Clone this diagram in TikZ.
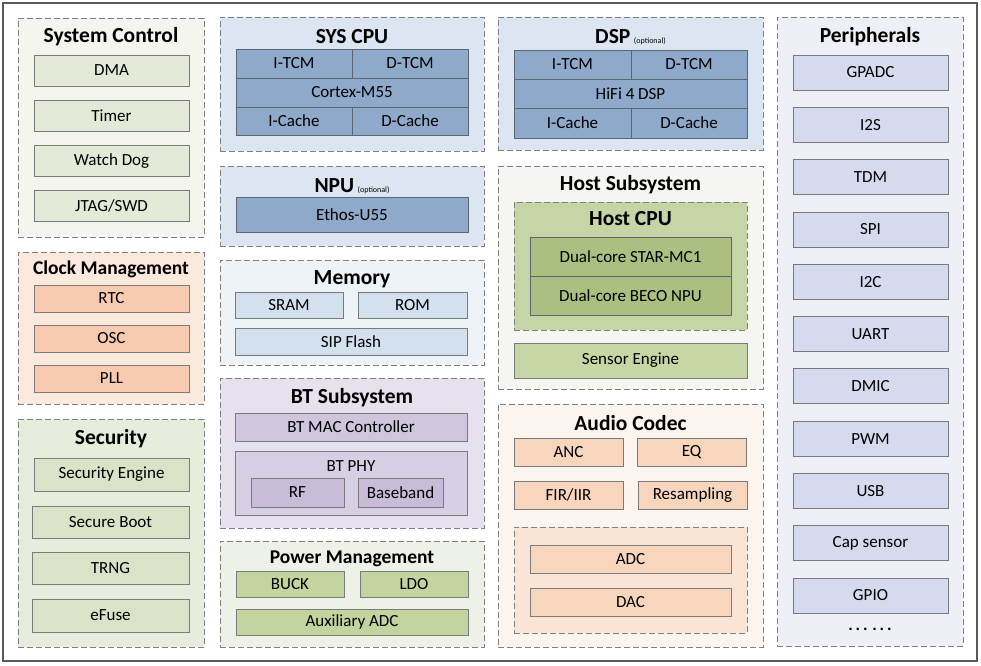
\documentclass[tikz,border=0pt]{standalone}
\usepackage{fontspec}
\setmainfont{Carlito}
\usepackage{tikz}
\definecolor{frameln}{HTML}{5A5A5A}
\definecolor{grpln}{HTML}{808080}
\definecolor{boxln}{HTML}{7A7A7A}
\definecolor{cpuln}{HTML}{5B6673}
\definecolor{scbg}{HTML}{F3F5EE}\definecolor{scbox}{HTML}{E3EAD7}
\definecolor{ckbg}{HTML}{FCE9DD}\definecolor{ckbox}{HTML}{F8CBB0}
\definecolor{secbg}{HTML}{E7EDDC}\definecolor{secbox}{HTML}{DAE3C8}
\definecolor{cpubg}{HTML}{DCE6F2}\definecolor{cpubox}{HTML}{8EA9C9}
\definecolor{membg}{HTML}{EEF3F8}\definecolor{membox}{HTML}{D3E0EE}
\definecolor{btbg}{HTML}{E6E1EC}\definecolor{btbox}{HTML}{CFC5DD}
\definecolor{btphy}{HTML}{D7CFE3}\definecolor{btin}{HTML}{C8BCD8}
\definecolor{pwbg}{HTML}{EEF1E8}\definecolor{pwbox}{HTML}{C4D49F}
\definecolor{hsbg}{HTML}{F5F5F2}\definecolor{hcpu}{HTML}{C6D5A5}
\definecolor{hcore}{HTML}{ABC080}\definecolor{sensbox}{HTML}{C7D6A5}
\definecolor{acbg}{HTML}{FCF4EE}\definecolor{acbox}{HTML}{F8D6BD}
\definecolor{acin}{HTML}{FAE4D5}
\definecolor{perbg}{HTML}{EFEFF8}\definecolor{perbox}{HTML}{D6DAEE}
\tikzset{
  bx/.style={draw=boxln,line width=0.8pt,inner sep=0pt,font=\fontsize{17}{19}\selectfont},
  cell/.style={draw=cpuln,line width=0.8pt,inner sep=0pt,fill=cpubox,font=\fontsize{17}{19}\selectfont},
  grp/.style={draw=grpln,line width=1pt,dash pattern=on 6pt off 3pt,inner sep=0pt},
  hd/.style={inner sep=0pt,font=\fontsize{21.5}{24}\selectfont\bfseries},
  hds/.style={inner sep=0pt,font=\fontsize{19.5}{22}\selectfont\bfseries},
  lbl/.style={inner sep=0pt,font=\fontsize{17}{19}\selectfont},
  sz/.style 2 args={minimum width=#1,minimum height=#2},
}
\newcommand\optl{\fontsize{8}{9}\selectfont\mdseries (optional)}

\begin{document}
\begin{tikzpicture}[x=1pt,y=-1pt]
\useasboundingbox (0,0) rectangle (981,665);
\draw[line width=2pt,draw=frameln] (3,3) rectangle (977,661);
% left column
\node[grp,sz={186}{219},fill=scbg] (sysctl) at (111,127.5){};
\node[hd] (sysctlt) at (111,36.5){System Control};
\node[bx,sz={155}{31},fill=scbox] (dma) at (111.5,70.5){DMA};
\node[bx,sz={155}{31},fill=scbox] (timer) at (111.5,115.5){Timer};
\node[bx,sz={155}{31},fill=scbox] (wdog) at (111.5,161){Watch Dog};
\node[bx,sz={155}{31},fill=scbox] (jtag) at (111.5,206){JTAG/SWD};
\node[grp,sz={186}{152},fill=ckbg] (clk) at (111,328){};
\node[hds] (clkt) at (111,269.5){Clock Management};
\node[bx,sz={155}{27},fill=ckbox] (rtc) at (111.5,298.5){RTC};
\node[bx,sz={155}{27},fill=ckbox] (osc) at (111.5,338.5){OSC};
\node[bx,sz={155}{27},fill=ckbox] (pll) at (111.5,378.5){PLL};
\node[grp,sz={186}{228},fill=secbg] (sec) at (111,533){};
\node[hd] (sect) at (111,438.5){Security};
\node[bx,sz={155}{33},fill=secbox] (seceng) at (111.5,474.5){Security Engine};
\node[bx,sz={157}{32},fill=secbox] (sboot) at (110.5,522){Secure Boot};
\node[bx,sz={157}{32},fill=secbox] (trng) at (110.5,568){TRNG};
\node[bx,sz={157}{33},fill=secbox] (efuse) at (110.5,615.5){eFuse};
% second column
\node[grp,sz={264}{134},fill=cpubg] (syscpu) at (352,84){};
\node[hd] (syscput) at (352,37){SYS CPU};
\node[cell,sz={116}{29}] (itcm) at (294,63.5){I-TCM}; \node[cell,sz={116}{29}] (dtcm) at (410,63.5){D-TCM};
\node[cell,sz={232}{29}] (m55) at (352,92.5){Cortex-M55};
\node[cell,sz={116}{28}] (icache) at (294,121){I-Cache}; \node[cell,sz={116}{28}] (dcache) at (410,121){D-Cache};
\node[grp,sz={264}{80},fill=cpubg] (npu) at (352,206){};
\node[hd] (nput) at (352,186){NPU\,\optl};
\node[cell,sz={232}{35}] (ethos) at (352,214.5){Ethos-U55};
\node[grp,sz={264}{105},fill=membg] (mem) at (352,312.5){};
\node[hd] (memt) at (352,279.5){Memory};
\node[bx,sz={108}{26},fill=membox] (sram) at (289,305){SRAM}; \node[bx,sz={109}{26},fill=membox] (rom) at (412.5,305){ROM};
\node[bx,sz={232}{27},fill=membox] (flash) at (351,341.5){SIP Flash};
\node[grp,sz={264}{150},fill=btbg] (bt) at (352,453){};
\node[hd] (btt) at (352,397.5){BT Subsystem};
\node[bx,sz={232}{28},fill=btbox] (btmac) at (351,427){BT MAC Controller};
\node[bx,sz={232}{64},fill=btphy] (btphy) at (351,483){};
\node[lbl] (btphyt) at (351,466.5){BT PHY};
\node[bx,sz={93}{29},fill=btin] (rf) at (297.5,492.5){RF}; \node[bx,sz={85}{29},fill=btin] (bband) at (400.5,492.5){Baseband};
\node[grp,sz={264}{106},fill=pwbg] (pwr) at (352,594){};
\node[hds] (pwrt) at (352,558.5){Power Management};
\node[bx,sz={108}{26},fill=pwbox] (buck) at (290,584){BUCK}; \node[bx,sz={108}{26},fill=pwbox] (ldo) at (414,584){LDO};
\node[bx,sz={232}{26},fill=pwbox] (auxadc) at (352,622){Auxiliary ADC};
% third column
\node[grp,sz={265}{133},fill=cpubg] (dsp) at (630.5,83.5){};
\node[hd] (dspt) at (630.5,37){DSP\,\optl};
\node[cell,sz={117}{29}] (ditcm) at (572.5,64.5){I-TCM}; \node[cell,sz={116}{29}] (ddtcm) at (689,64.5){D-TCM};
\node[cell,sz={233}{29}] (hifi) at (630.5,93.5){HiFi 4 DSP};
\node[cell,sz={117}{30}] (dicache) at (572.5,123){I-Cache}; \node[cell,sz={116}{30}] (ddcache) at (689,123){D-Cache};
\node[grp,sz={265}{223},fill=hsbg] (host) at (630.5,277.5){};
\node[hd] (hostt) at (630.5,184.5){Host Subsystem};
\node[grp,sz={233}{128},fill=hcpu] (hcpu) at (630.5,266){};
\node[hd] (hcput) at (630.5,219){Host CPU};
\node[bx,sz={201}{39},fill=hcore,draw=cpuln] (star) at (630.5,256.5){Dual-core STAR-MC1};
\node[bx,sz={201}{39},fill=hcore,draw=cpuln] (beco) at (630.5,295.5){Dual-core BECO NPU};
\node[bx,sz={233}{35},fill=sensbox] (sens) at (630.5,360.5){Sensor Engine};
\node[grp,sz={265}{243},fill=acbg] (codec) at (630.5,525.5){};
\node[hd] (codect) at (630.5,423){Audio Codec};
\node[bx,sz={109}{28},fill=acbox] (anc) at (568.5,452){ANC}; \node[bx,sz={109}{28},fill=acbox] (eq) at (691.5,452){EQ};
\node[bx,sz={109}{28},fill=acbox] (fir) at (568.5,495){FIR/IIR}; \node[bx,sz={109}{28},fill=acbox] (resamp) at (692.5,495){Resampling};
\node[grp,sz={233}{106},fill=acin] (conv) at (630.5,580){};
\node[bx,sz={201}{28},fill=acbox] (adc) at (630.5,559){ADC};
\node[bx,sz={201}{28},fill=acbox] (dac) at (630.5,602){DAC};
% peripherals
\node[grp,sz={186}{629},fill=perbg] (per) at (870,331.5){};
\node[hd] (pert) at (870,36.5){Peripherals};
\foreach \t [count=\i from 0] in {GPADC,I2S,TDM,SPI,I2C,UART,DMIC,PWM,USB,Cap sensor,GPIO}
  \node[bx,sz={155}{35},fill=perbox] (per\i) at (870.5,72.5+52.3*\i){\t};
\node[lbl] (more) at (870,629){\bfseries .\,.\,.\;.\,.\,.};
\end{tikzpicture}
\end{document}
